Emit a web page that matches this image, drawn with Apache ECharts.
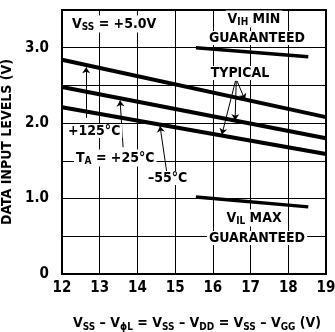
<!DOCTYPE html>
<html>
<head>
<meta charset="utf-8">
<script src="https://cdn.jsdelivr.net/npm/echarts@6/dist/echarts.min.js"></script>
<style>
html,body{margin:0;padding:0;background:#fff;}
#c{width:335px;height:332px;}
</style>
</head>
<body>
<div id="c"></div>
<script>
// ---- data ----
const xTicks = [12, 13, 14, 15, 16, 17, 18, 19];
const yTickValues = [0, 1, 2, 3];
const yTickLabels = ['0', '1.0', '2.0', '3.0'];

const typX = [12, 19];
const typ125 = [2.84, 2.08];
const typ25 = [2.48, 1.80];
const typM55 = [2.21, 1.59];

const guarX = [15.55, 18.53];
const vihMin = [3.00, 2.88];
const vilMax = [1.02, 0.89];

// annotation arrows: [fromX, fromY, toX, toY] in data units
const arrowsFrom = [
  [12.64, 2.07, 12.64, 2.74],
  [13.62, 1.68, 13.54, 2.30],
  [14.78, 1.34, 14.60, 1.96],
  [16.64, 2.56, 16.85, 2.31],
  [16.62, 2.56, 16.59, 2.04],
  [16.60, 2.56, 16.24, 1.85]
];

const FONT = '"Liberation Sans Narrow","DejaVu Sans Condensed",sans-serif';

function pairs(xs, ys) { return xs.map((x, i) => [x, ys[i]]); }

const chart = echarts.init(document.getElementById('c'), null, {renderer: 'canvas'});

const lineSeries = (data, w) => ({
  type: 'line', data: data, showSymbol: false, symbol: 'none',
  lineStyle: {color: '#000', width: w}, silent: true, z: 3, animation: false
});

const subRich = {
  s: {fontSize: 10, fontWeight: 'bold', fontFamily: FONT, color: '#000', padding: [7, 0, 0, 0]},
  n: {fontSize: 14, fontWeight: 'bold', fontFamily: FONT, color: '#000'}
};

chart.setOption({
  animation: false,
  backgroundColor: '#fff',
  grid: {left: 62, right: 9, top: 10, bottom: 58, show: true, borderColor: '#000', borderWidth: 2,
         containLabel: false, outerBoundsMode: 'none'},
  xAxis: {
    type: 'value', min: 12, max: 19, interval: 1,
    axisLine: {show: true, lineStyle: {color: '#000', width: 2}},
    axisTick: {show: false},
    splitLine: {show: true, lineStyle: {color: '#000', width: 1}},
    axisLabel: {
      color: '#000', fontSize: 15, fontWeight: 'bold', fontFamily: FONT, margin: 7,
      formatter: v => (xTicks.indexOf(v) >= 0 ? String(v) : '')
    },
    name: '{n|V}{s|SS}{n| – V}{s|\u03D5L}{n| = V}{s|SS}{n| – V}{s|DD}{n| = V}{s|SS}{n| – V}{s|GG}{n| (V)}',
    nameLocation: 'middle', nameGap: 41,
    nameTextStyle: {rich: subRich, padding: [0, 0, 0, 6]}
  },
  yAxis: {
    type: 'value', min: 0, max: 3.5, interval: 0.5,
    axisLine: {show: true, lineStyle: {color: '#000', width: 2}},
    axisTick: {show: false},
    splitLine: {show: true, lineStyle: {color: '#000', width: 1}},
    axisLabel: {
      color: '#000', fontSize: 15, fontWeight: 'bold', fontFamily: FONT, margin: 13,
      formatter: v => {
        const i = yTickValues.findIndex(t => Math.abs(t - v) < 1e-6);
        return i >= 0 ? yTickLabels[i] : '';
      }
    },
    name: 'DATA INPUT LEVELS (V)',
    nameLocation: 'middle', nameGap: 37,
    nameTextStyle: {color: '#000', fontSize: 14, fontWeight: 'bold', fontFamily: FONT}
  },
  series: [
    lineSeries(pairs(typX, typ125), 4),
    lineSeries(pairs(typX, typ25), 4),
    lineSeries(pairs(typX, typM55), 4),
    lineSeries(pairs(guarX, vihMin), 3.5),
    lineSeries(pairs(guarX, vilMax), 3.5),
    {
      type: 'lines', coordinateSystem: 'cartesian2d', z: 4, silent: true,
      symbol: ['none', 'arrow'], symbolSize: 6,
      lineStyle: {color: '#000', width: 1, opacity: 1},
      data: arrowsFrom.map(a => ({coords: [[a[0], a[1]], [a[2], a[3]]]}))
    }
  ]
});

const txt = (x, y, text, align, extra) => ({
  type: 'text', x: x, y: y, z: 10,
  style: Object.assign({
    text: text, fill: '#000', fontSize: 14, fontWeight: 'bold', fontFamily: FONT,
    align: align || 'left', verticalAlign: 'middle',
    backgroundColor: '#fff', padding: [0, 2, 0, 2]
  }, extra || {})
});

const richStyle = {
  s: {fontSize: 10, fontWeight: 'bold', fontFamily: FONT, fill: '#000', padding: [7, 0, 0, 0]},
  n: {fontSize: 14, fontWeight: 'bold', fontFamily: FONT, fill: '#000'}
};

chart.setOption({
  graphic: [
    txt(70, 24, '{n|V}{s|SS}{n| = +5.0V}', 'left', {rich: richStyle}),
    txt(254, 19, '{n|V}{s|IH}{n| MIN}', 'center', {rich: richStyle}),
    txt(257, 38, 'GUARANTEED', 'center', {}),
    txt(240, 73, 'TYPICAL', 'center', {}),
    txt(66, 131, '+125\u00B0C', 'left', {}),
    txt(74, 158, '{n|T}{s|A}{n| = +25\u00B0C}', 'left', {rich: richStyle}),
    txt(146, 178, '\u201355\u00B0C', 'left', {}),
    txt(254, 218, '{n|V}{s|IL}{n| MAX}', 'center', {rich: richStyle}),
    txt(257, 238, 'GUARANTEED', 'center', {})
  ]
});
</script>
</body>
</html>
